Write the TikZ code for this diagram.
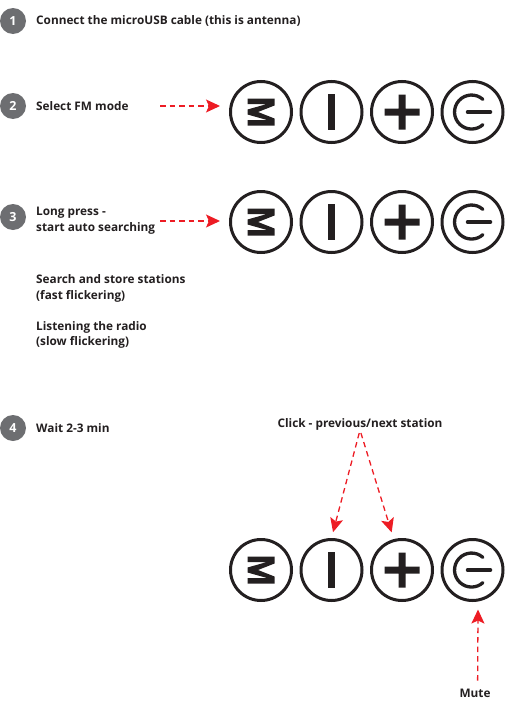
\documentclass[tikz,border=0pt]{standalone}
\usepackage{fontspec}
\setmainfont{Open Sans}
\usetikzlibrary{arrows.meta}
\definecolor{inkblack}{HTML}{231F20}
\definecolor{stepgray}{HTML}{6D6E71}
\definecolor{arrowred}{HTML}{ED1C24}
\tikzset{
    stepdisc/.style={circle,fill=stepgray,text=white,minimum size=26pt,inner sep=0pt,font=\fontsize{12.5}{15}\selectfont\bfseries},
    steptext/.style={anchor=west,inner sep=0pt,align=left,text=inkblack,font=\fontsize{11.8}{15.7}\selectfont\bfseries},
    btn/.style={circle,draw=inkblack,line width=3pt,minimum size=61pt,inner sep=0pt},
    redarrow/.style={draw=arrowred,line width=1.3pt,dash pattern=on 5.5pt off 4pt,-{Stealth[length=14pt,width=13pt,inset=3pt]}}
}
\begin{document}
\begin{tikzpicture}[x=1pt,y=-1pt]
    \useasboundingbox (0,0) rectangle (514,704);

    % Numeros des etapes
    \node[stepdisc] (one) at (13,21) {1};
    \node[stepdisc] (two) at (13,106) {2};
    \node[stepdisc] (three) at (13,217) {3};
    \node[stepdisc] (four) at (13,428) {4};

    % Textes
    \node[steptext] (connect) at (36,21) {Connect the microUSB cable (this is antenna)};
    \node[steptext] (select) at (36,106) {Select FM mode};
    \node[steptext] (press) at (36,220.5) {Long press -\\start auto searching};
    \node[steptext] (search) at (36,288.5) {Search and store stations\\(fast flickering)};
    \node[steptext] (listen) at (36,335) {Listening the radio\\(slow flickering)};
    \node[steptext] (wait) at (36,428) {Wait 2-3 min};
    \node[steptext,anchor=center] (click) at (360,424) {Click - previous/next station};
    \node[steptext,anchor=center] (mute) at (475,693) {Mute};

    % Rangees de boutons
    \foreach \row/\y in {two/112,three/222,four/570} {
        \node[btn] (mode\row) at (261,\y) {};
        \node[btn] (minus\row) at (331.5,\y) {};
        \node[btn] (plus\row) at (402,\y) {};
        \node[btn] (power\row) at (472.5,\y) {};
        % Bouton M
        \fill[inkblack,shift={(mode\row)}] (-13.5,-13.5) -- (13.5,-13.5) -- (13.5,-6.5) -- (-3,0) -- (13.5,6.5) -- (13.5,13.5)
            -- (-13.5,13.5) -- (-13.5,8) -- (6,8) -- (-13.5,2.5) -- (-13.5,-2.5) -- (6,-8) -- (-13.5,-8) -- cycle;
        % Bouton -
        \fill[inkblack,shift={(minus\row)}] (-3.5,-18) rectangle (3.5,18);
        % Bouton +
        \fill[inkblack,shift={(plus\row)}] (-17.5,-3.5) rectangle (17.5,3.5) (-3.5,-17.5) rectangle (3.5,17.5);
        % Bouton marche
        \draw[inkblack,line width=3.3pt,line cap=round,shift={(power\row)}] (10.4,-12.6) arc[start angle=-48,end angle=-312,radius=17];
        \draw[inkblack,line width=3.5pt,line cap=round,shift={(power\row)}] (-5,0) -- (18,0);
    }

    % Fleches
    \coordinate (starttwo) at (160,106);
    \coordinate (startthree) at (160,221);
    \draw[redarrow,shorten >=9pt] (starttwo) -- (starttwo -| modetwo.west);
    \draw[redarrow,shorten >=9pt] (startthree) -- (startthree -| modethree.west);
    \draw[redarrow,shorten >=6pt,shorten <=3pt] (click.south) -- (minusfour.north);
    \draw[redarrow,shorten >=7pt,shorten <=3pt] (click.south) -- (plusfour.105);
    \draw[redarrow,shorten >=8pt,shorten <=8pt] (mute.60) -- (powerfour.-80);
\end{tikzpicture}
\end{document}
